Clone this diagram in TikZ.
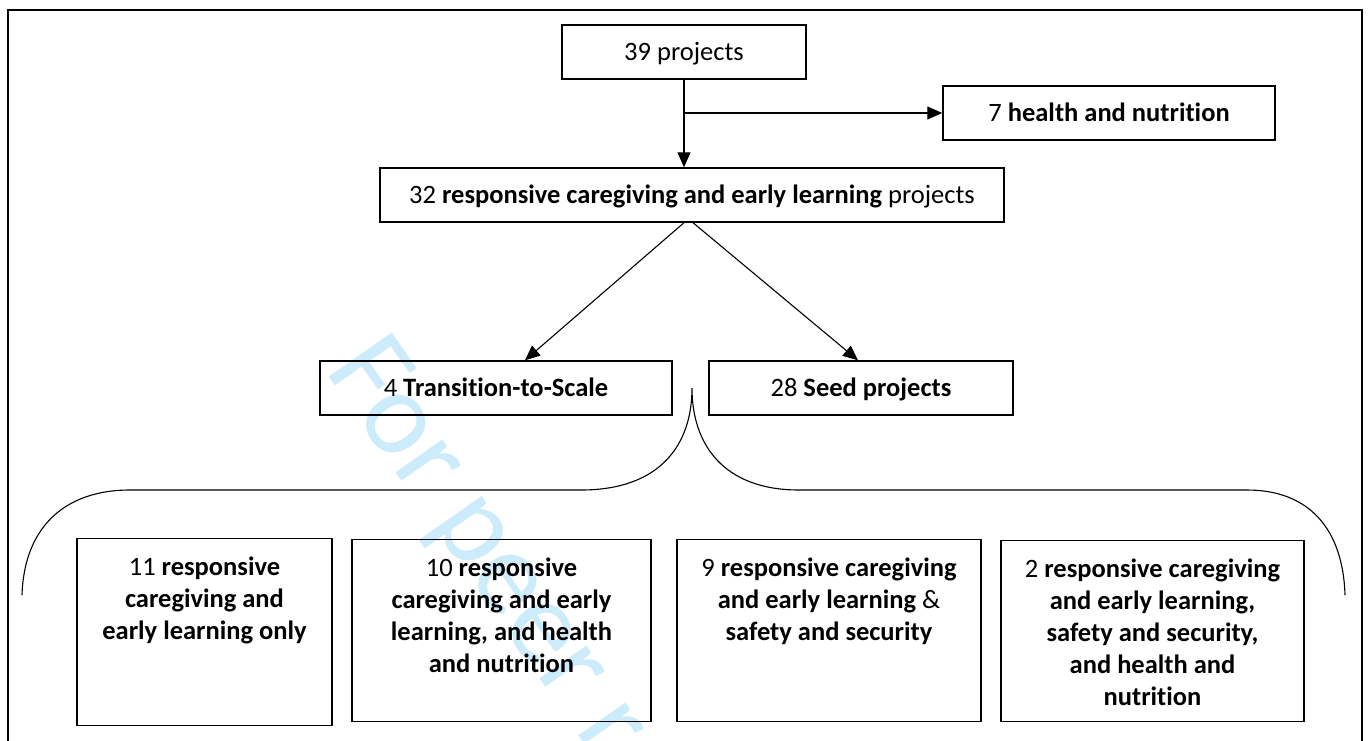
\documentclass[tikz,border=0pt]{standalone}
\usepackage{fontspec}
\setmainfont{Carlito}[Ligatures=NoCommon]
\usetikzlibrary{arrows.meta}
\definecolor{wmark}{RGB}{204,236,251}

\begin{document}
\begin{tikzpicture}[x=1pt,y=-1pt,
    proj/.style={draw,line width=1.4pt,minimum height=54pt,inner sep=0pt,
      font=\fontsize{26.5}{32}\selectfont},
    single/.style={proj,text height=20pt,text depth=3pt},
    group/.style={proj,anchor=north,inner xsep=6pt,inner ysep=18pt},
    link/.style={-{Triangle[length=15pt,width=13pt]},line width=1.1pt}]
    \useasboundingbox (0,0) rectangle (1368,740);
    \clip (0,0) rectangle (1368,740);
    \fill[white] (0,0) rectangle (1368,740);

    \node[wmark,font=\fontsize{120}{120}\selectfont,anchor=base west,rotate=-55]
      (wm) at (322,368) {For peer review};

    \draw[line width=2.5pt] (8,10) rectangle (1362,760);

    \node[single,minimum width=244pt] (total) at (684,52) {39 projects};
    \node[single,minimum width=332pt] (health) at (1109,113) {7 \textbf{health and nutrition}};
    \node[single,minimum width=624pt] (rcel) at (692,195)
      {32 \textbf{responsive caregiving and early learning} projects};
    \node[single,minimum width=352pt] (tts) at (496,388) {4 \textbf{Transition-to-Scale}};
    \node[single,minimum width=304pt] (seed) at (861,388) {28 \textbf{Seed projects}};

    \node[group] (only) at (204.5,538) {\parbox[c][151pt][t]{243pt}{\centering
      11 \textbf{responsive}\\ \textbf{caregiving and}\\ \textbf{early learning only}}};
    \node[group] (withhn) at (501.5,539) {\parbox[c][146pt][t]{287pt}{\centering
      10 \textbf{responsive}\\ \textbf{caregiving and early}\\ \textbf{learning, and health}\\ \textbf{and nutrition}}};
    \node[group] (withss) at (829,539) {\parbox[c][146pt][t]{292pt}{\centering
      9 \textbf{responsive caregiving}\\ \textbf{and early learning} \&\\ \textbf{safety and security}}};
    \node[group] (withall) at (1152.5,540) {\parbox[c][145pt][t]{291pt}{\centering
      2 \textbf{responsive caregiving}\\ \textbf{and early learning,}\\ \textbf{safety and security,}\\ \textbf{and health and}\\ \textbf{nutrition}}};

    \draw[link] (total.south) -- (total.south |- rcel.north);
    \draw[link] (total.south |- health.west) -- (health.west);
    \draw[link] ([xshift=-8pt]rcel.south) -- ([xshift=29pt]tts.north);
    \draw[link] ([xshift=1pt]rcel.south) -- ([xshift=-3pt]seed.north);

    % brace over the four groups
    \draw[line width=1.1pt] (22,595) .. controls (24,530) and (62,490) .. (130,490)
      -- (581,490) .. controls (660,490) and (692,445) .. (692,388)
      .. controls (692,445) and (724,490) .. (799,490)
      -- (1247,490) .. controls (1310,490) and (1343,530) .. (1345,595);
\end{tikzpicture}
\end{document}
